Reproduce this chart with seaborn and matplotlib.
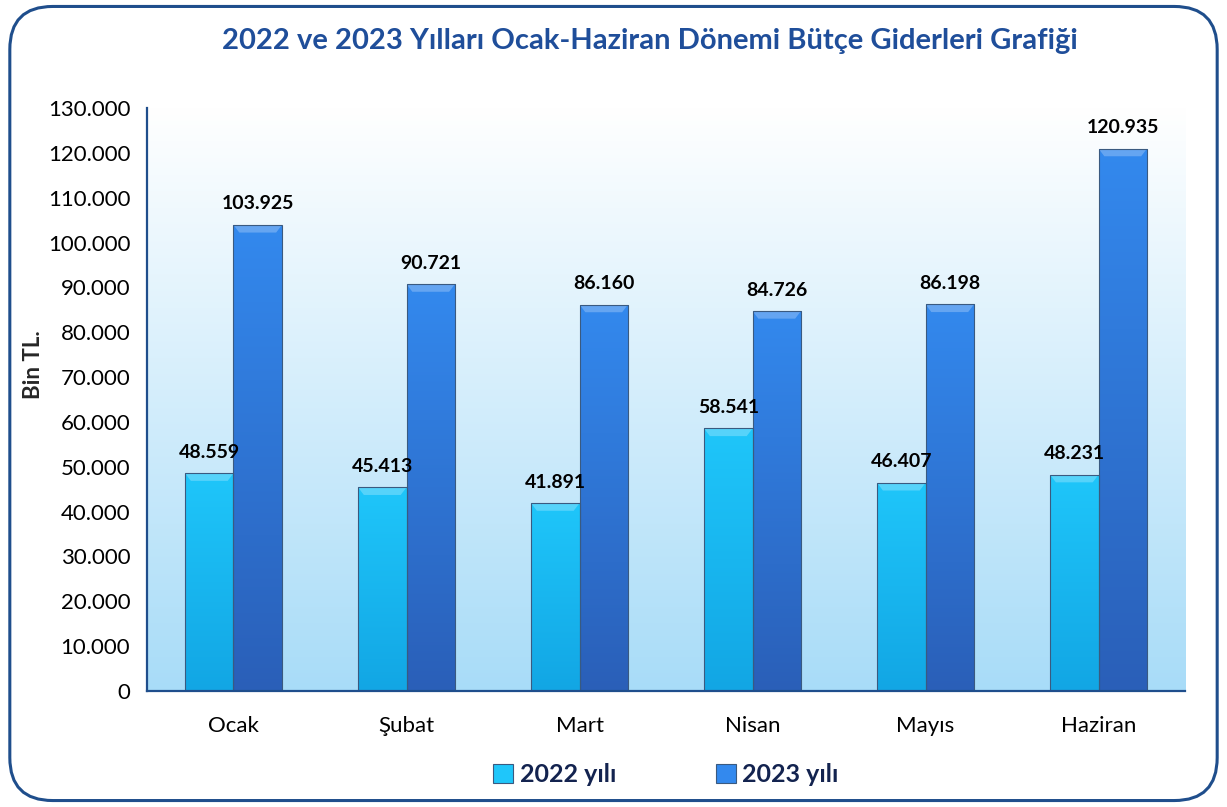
import matplotlib
matplotlib.use("Agg")
import matplotlib.pyplot as plt
import seaborn as sns
import pandas as pd
import numpy as np
from matplotlib.patches import FancyBboxPatch
from matplotlib.ticker import FuncFormatter
from matplotlib.colors import LinearSegmentedColormap

# data
months = ["Ocak", "Şubat", "Mart", "Nisan", "Mayıs", "Haziran"]
giderler_2022 = [48559, 45413, 41891, 58541, 46407, 48231]
giderler_2023 = [103925, 90721, 86160, 84726, 86198, 120935]
series = ["2022 yılı", "2023 yılı"]

df = pd.DataFrame({
    "Ay": months * 2,
    "Yıl": [series[0]] * 6 + [series[1]] * 6,
    "Gider": giderler_2022 + giderler_2023,
})

sns.set_style("white")
plt.rcParams["font.family"] = ["Lato", "DejaVu Sans"]

fig = plt.figure(figsize=(12.27, 8.07), dpi=100)
ax = fig.add_axes([0.1198, 0.1437, 0.8460, 0.7225])

# rounded frame
frame = FancyBboxPatch((0.008, 0.008), 0.984, 0.984,
                       boxstyle="round,pad=0,rounding_size=0.035",
                       transform=fig.transFigure, fill=False,
                       edgecolor="#1f4e8c", linewidth=2.2, zorder=0,
                       mutation_aspect=1227 / 807)
fig.patches.append(frame)

# gradient background in plot area
grad = np.linspace(0, 1, 256).reshape(-1, 1)
bg_cmap = LinearSegmentedColormap.from_list("bg", ["#ffffff", "#a8dcf8"])
ax.imshow(grad, cmap=bg_cmap, aspect="auto", extent=[0, 1, 0, 1],
          transform=ax.transAxes, origin="upper", zorder=0)

palette = {series[0]: "#18b8f2", series[1]: "#2f7fe2"}
sns.barplot(data=df, x="Ay", y="Gider", hue="Yıl", palette=palette,
            width=0.56, saturation=1, ax=ax, edgecolor="#3a5a80",
            linewidth=0.8, zorder=2, legend=True)

# shade each bar top-to-bottom
bar_grads = [("#1fc6fa", "#12a6e4"), ("#3389ee", "#2a5fb8")]
for cont, (top_c, bot_c) in zip(ax.containers, bar_grads):
    cm = LinearSegmentedColormap.from_list("b", [top_c, bot_c])
    for b in cont:
        x0, w, h = b.get_x(), b.get_width(), b.get_height()
        im = ax.imshow(grad, cmap=cm, aspect="auto",
                       extent=[x0, x0 + w, 0, h], origin="upper", zorder=2.1)
        im.set_clip_path(b)
        b.set_facecolor("none")
        b.set_zorder(2.2)
        # bevel highlight on top
        ax.fill([x0, x0 + w, x0 + w * 0.88, x0 + w * 0.12],
                [h, h, h - 1700, h - 1700], color="white", alpha=0.25,
                zorder=2.15, lw=0)
ax.set_xlim(-0.5, 5.5)
ax.set_ylim(0, 130000)

ax.set_yticks(np.arange(0, 130001, 10000))
ax.yaxis.set_major_formatter(FuncFormatter(
    lambda v, p: "0" if v == 0 else f"{int(v):,}".replace(",", ".")))
ax.tick_params(axis="both", labelsize=16, colors="black", length=6,
               width=1.5, direction="out")
ax.tick_params(axis="x", pad=18, color="#1f4e8c")
ax.tick_params(axis="y", color="#1f4e8c", pad=6)
ax.set_xticks(np.arange(-0.5, 6, 1), minor=True)
ax.tick_params(axis="x", which="major", length=0)
ax.tick_params(axis="x", which="minor", length=6, width=1.5, color="#1f4e8c")

for side in ["top", "right"]:
    ax.spines[side].set_visible(False)
for side in ["left", "bottom"]:
    ax.spines[side].set_color("#1f4e8c")
    ax.spines[side].set_linewidth(1.6)
    ax.spines[side].set_zorder(3)

ax.set_xlabel("")
ax.set_ylabel("Bin TL.", fontsize=16, fontweight="bold", labelpad=3, y=0.56)

for cont in ax.containers:
    labels = [f"{int(b.get_height()):,}".replace(",", ".") for b in cont]
    ax.bar_label(cont, labels=labels, padding=9, fontsize=14,
                 fontweight="bold", color="black")

fig.suptitle("2022 ve 2023 Yılları Ocak-Haziran Dönemi Bütçe Giderleri Grafiği",
             x=0.53, y=0.965, fontsize=21, fontweight="bold", color="#1f4e9a")

leg = ax.legend(loc="upper center", bbox_to_anchor=(0.5, -0.085), ncol=2,
                frameon=False, fontsize=18, handlelength=0.8, handleheight=0.8,
                columnspacing=4.0, handletextpad=0.25)
for t in leg.get_texts():
    t.set_fontweight("bold")
    t.set_color("#13234f")
for h, (top_c, bot_c) in zip(leg.legend_handles, bar_grads):
    h.set_facecolor(top_c)
    h.set_edgecolor("#3a5a80")

fig.savefig("out.png", dpi=100)
